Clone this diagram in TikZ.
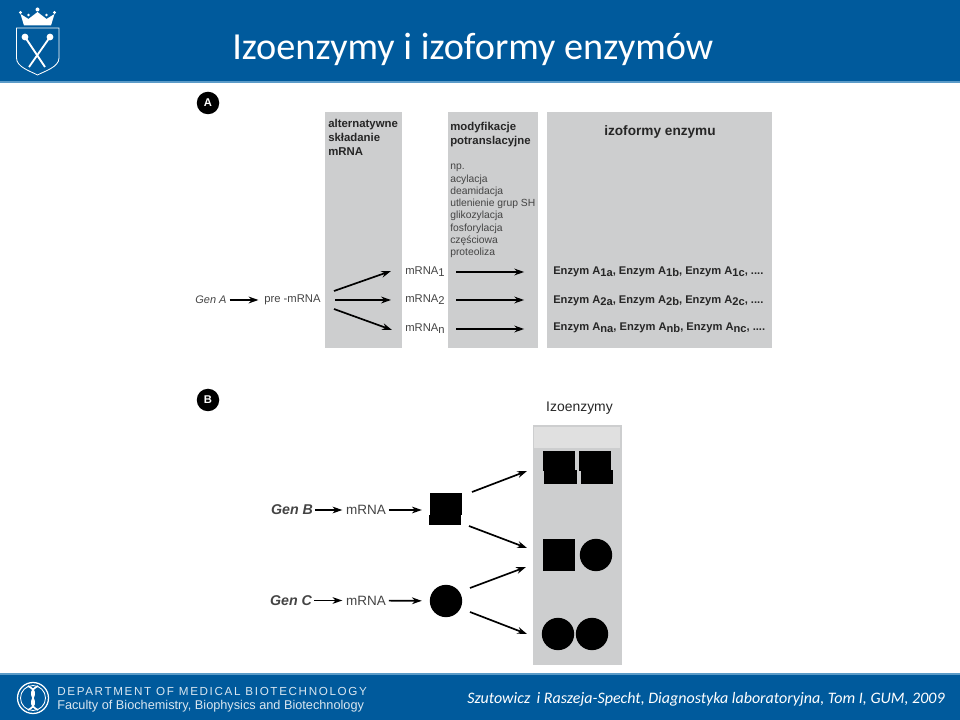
\documentclass[tikz,border=0pt]{standalone}
\usepackage{fontspec}
\usetikzlibrary{arrows.meta}
\setmainfont{Liberation Sans}
\newfontfamily\carlito{Carlito}
\definecolor{uniblue}{HTML}{005A9C}
\definecolor{edgeblue}{HTML}{5B9BC8}
\definecolor{panelgray}{HTML}{CDCECF}
\definecolor{toplight}{HTML}{E0E0E0}
\definecolor{inkgray}{HTML}{444444}
\newcommand{\lowsub}[1]{\raisebox{-0.35ex}{#1}}
\tikzset{
  panel/.style={fill=panelgray,draw=none},
  arr/.style={-{Stealth[length=7pt,width=4.8pt]},line width=1.2pt},
  lab/.style={inner sep=1pt,text=inkgray,font=\fontsize{8}{9}\selectfont},
  headlab/.style={inner sep=0pt,anchor=north west,align=left,text=black!85,font=\bfseries\fontsize{8.1}{10}\selectfont},
  enzlab/.style={inner sep=0pt,anchor=west,text=black!85,font=\bfseries\fontsize{7.93}{9}\selectfont},
  genlab/.style={inner sep=1pt,text=inkgray,font=\bfseries\itshape\fontsize{10.1}{11}\selectfont},
  rnalab/.style={inner sep=1pt,text=inkgray,font=\fontsize{9.6}{11}\selectfont},
  badge/.style={circle,fill=black,text=white,inner sep=0pt,minimum size=16pt,font=\bfseries\fontsize{8}{9}\selectfont},
  sq/.style={fill=black,draw=none,inner sep=0pt,minimum width=23pt,minimum height=23pt},
  sqtop/.style={sq,minimum height=14.2pt},
  dot/.style={circle,fill=black,draw=none,inner sep=0pt,minimum size=23pt},
  logo/.style={white,line width=0.6pt},
}
\begin{document}
\begin{tikzpicture}[x=0.025cm,y=-0.025cm]
\useasboundingbox (0,0) rectangle (960,720);

% header and footer bars
\fill[uniblue] (0,0) rectangle (960,82);
\fill[edgeblue] (0,81.5) rectangle (960,83);
\fill[uniblue] (0,674) rectangle (960,720);
\fill[edgeblue] (0,673) rectangle (960,674.5);
\node[anchor=west,inner sep=0pt,white] (title) at (232,49) {\carlito\fontsize{27.2}{30}\selectfont Izoenzymy i izoformy enzymów};
\node[anchor=west,inner sep=0pt,white] (cite) at (467,699.5) {\carlito\itshape\fontsize{11.38}{14}\selectfont Szutowicz\, i Raszeja-Specht, Diagnostyka laboratoryjna, Tom I, GUM, 2009};
\node[anchor=west,inner sep=0pt,text=white!85!uniblue] (dept) at (57,691.5) {\addfontfeature{LetterSpace=14}\fontsize{8.3}{10}\selectfont DEPARTMENT OF MEDICAL BIOTECHNOLOGY};
\node[anchor=west,inner sep=0pt,text=white!85!uniblue] (fac) at (57,706.5) {\fontsize{9.05}{10}\selectfont Faculty of Biochemistry, Biophysics and Biotechnology};

% shield and crown
\draw[logo] (16.5,28) -- (59,28) -- (59,58) .. controls (59,67) and (45,71) .. (37.5,75) .. controls (30,71) and (16.5,67) .. (16.5,58) -- cycle;
\draw[white,line width=1.3pt] (25,37) -- (45,67);
\draw[white,line width=1.3pt] (50,37) -- (29,67);
\fill[white] (25,37) circle (3.4) (50,37) circle (3.4);
\fill[white] (24,25.5) -- (20.5,14) -- (28.5,19) -- (37.5,12) -- (46.5,19) -- (54.5,14) -- (51,25.5) -- cycle;
\fill[white] (37.5,9.5) circle (2) (20.5,12.5) circle (1.6) (54.5,12.5) circle (1.6) (28.5,15) circle (1.3) (46.5,15) circle (1.3);

% helix badge in the footer
\draw[white,line width=0.9pt] (33,698) circle (15.5);
\draw[white,line width=0.6pt] (33,698) circle (12.5);
\draw[white,line width=1.2pt] (28,686) .. controls (44,694) and (22,702) .. (38,710);
\draw[white,line width=1.2pt] (38,686) .. controls (22,694) and (44,702) .. (28,710);

% part A
\fill[panel] (325,112) rectangle (402,348);
\fill[panel] (448,112) rectangle (538,348);
\fill[panel] (547,112) rectangle (772,348);
\node[badge] (badgeA) at (208,103) {A};

\node[headlab] (headSplice) at (328,119) {alternatywne\\składanie\\mRNA};
\node[headlab] (headMod) at (450,122) {modyfikacje\\potranslacyjne};
\node[inner sep=0pt,text=black!85,font=\bfseries\fontsize{9.7}{11}\selectfont] (headIso) at (660,131.5) {izoformy enzymu};
\node[anchor=north west,inner sep=0pt,align=left,text=inkgray,font=\fontsize{7.35}{8.72}\selectfont] (modList) at (450,164) {np.\\acylacja\\deamidacja\\utlenienie grup SH\\glikozylacja\\fosforylacja\\częściowa\\proteoliza};

\node[lab,font=\itshape\fontsize{7.8}{9}\selectfont] (genA) at (211,300) {Gen A};
\node[lab] (preA) at (292.5,300) {pre -mRNA};
\node[lab] (rnaOne) at (425,272) {mRNA\lowsub{1}};
\node[lab] (rnaTwo) at (425,300) {mRNA\lowsub{2}};
\node[lab] (rnaN) at (425,329) {mRNA\lowsub{n}};
\draw[arr,shorten <=1pt,shorten >=3pt] (genA) -- (preA);

\coordinate (fanOne) at (334,291);
\coordinate (fanTwo) at (335,300);
\coordinate (fanN) at (334,309);
\coordinate (tipOne) at (391,271);
\coordinate (tipTwo) at (391,300);
\coordinate (tipN) at (392,330);
\draw[arr] (fanOne) -- (tipOne);
\draw[arr] (fanTwo) -- (tipTwo);
\draw[arr] (fanN) -- (tipN);

\node[enzlab] (enzOne) at (553,272) {Enzym A\lowsub{1a}, Enzym A\lowsub{1b}, Enzym A\lowsub{1c}, ....};
\node[enzlab] (enzTwo) at (553,300.5) {Enzym A\lowsub{2a}, Enzym A\lowsub{2b}, Enzym A\lowsub{2c}, ....};
\node[enzlab] (enzN) at (553,328) {Enzym A\lowsub{na}, Enzym A\lowsub{nb}, Enzym A\lowsub{nc}, ....};
\draw[arr,shorten <=7pt,shorten >=20.5pt] (rnaOne.east) -- (rnaOne.east -| enzOne.west);
\draw[arr,shorten <=7pt,shorten >=20.5pt] (rnaTwo.east) -- (rnaTwo.east -| enzTwo.west);
\draw[arr,shorten <=7pt,shorten >=20.5pt] (rnaN.east) -- (rnaN.east -| enzN.west);

% part B
\fill[panel] (533,425) rectangle (622,665);
\fill[toplight] (534,427) rectangle (620,448);
\node[badge] (badgeB) at (208,400) {B};
\node[inner sep=0pt,text=black!85,font=\fontsize{9.9}{11}\selectfont] (headIzo) at (579.5,408) {Izoenzymy};

\node[genlab] (genB) at (292,510) {Gen B};
\node[rnalab] (rnaB) at (366,510) {mRNA};
\node[genlab] (genC) at (291,600.5) {Gen C};
\node[rnalab] (rnaC) at (366,600.5) {mRNA};
\node[sq,minimum height=15.6pt] (protB) at (446,504) {};
\fill (429,515) rectangle (461,525);
\node[dot] (protC) at (446,601) {};
\draw[arr,shorten <=0.5pt,shorten >=1.5pt] (genB) -- (rnaB);
\draw[arr,shorten <=0.5pt,shorten >=1.5pt] (genC) -- (rnaC);
\draw[arr,shorten <=1pt,shorten >=5.5pt] (rnaB) -- (rnaB -| protB.west);
\draw[arr,shorten <=1pt,shorten >=5.5pt] (rnaC) -- (protC);

% isoenzyme pairs
\node[sqtop] (pairBBa) at (559,461) {};
\node[sqtop] (pairBBb) at (595,461) {};
\fill (544.3,470) rectangle (576.7,484.5);
\fill (580.7,470) rectangle (612.7,484.5);
\node[sq] (pairBCa) at (559,555) {};
\node[dot] (pairBCb) at (596,555) {};
\node[dot] (pairCCa) at (558,634) {};
\node[dot] (pairCCb) at (592,634) {};

\coordinate (fromBup) at (472,492);
\coordinate (toBB) at (527,471);
\coordinate (fromBdown) at (469,526);
\coordinate (toBCup) at (527,548);
\coordinate (fromCup) at (470,588);
\coordinate (toBCdown) at (526,567);
\coordinate (fromCdown) at (470,612);
\coordinate (toCC) at (527,634);
\draw[arr] (fromBup) -- (toBB);
\draw[arr] (fromBdown) -- (toBCup);
\draw[arr] (fromCup) -- (toBCdown);
\draw[arr] (fromCdown) -- (toCC);
\end{tikzpicture}
\end{document}
